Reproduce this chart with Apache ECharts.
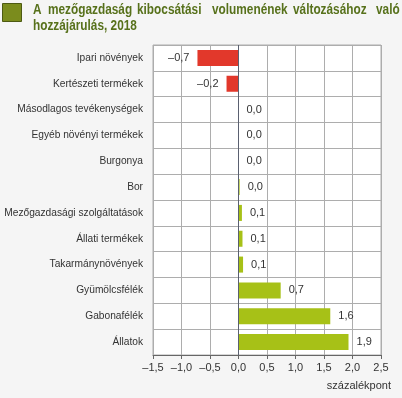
<!DOCTYPE html>
<html>
<head>
<meta charset="utf-8">
<script src="https://cdn.jsdelivr.net/npm/echarts@6/dist/echarts.min.js"></script>
<style>
  html, body { margin: 0; padding: 0; background: #f5f5f5; }
  #main { width: 402px; height: 398px; }
</style>
</head>
<body>
<div id="main"></div>
<script>
// kategóriák fentről lefelé
var categories = [
    'Ipari növények', 'Kertészeti termékek', 'Másodlagos tevékenységek',
    'Egyéb növényi termékek', 'Burgonya', 'Bor', 'Mezőgazdasági szolgáltatások',
    'Állati termékek', 'Takarmánynövények', 'Gyümölcsfélék', 'Gabonafélék', 'Állatok'
];
// hozzájárulás, százalékpont
var values = [-0.72, -0.21, 0, 0, 0, 0.02, 0.06, 0.07, 0.08, 0.74, 1.61, 1.93];

var titleLine1 = ['A', 'mezőgazdaság', 'kibocsátási', 'volumenének', 'változásához', 'való'];
var titleLine2 = 'hozzájárulás, 2018';
var unitLabel = 'százalékpont';

function huNum(v) {
    return v.toFixed(1).replace('.', ',').replace('-', '\u2013');
}

var chart = echarts.init(document.getElementById('main'));

var baseFont = '"Liberation Sans", Arial, sans-serif';
var titleFont = 'bold 14px "Liberation Sans", Arial, sans-serif';
// a cím sorkizárt és keskeny betűs: szavanként, vízszintesen összenyomva
var wordX = [33, 48, 137, 212, 293, 376];
var graphics = [{
    type: 'rect',
    shape: { x: 2.5, y: 3.5, width: 19, height: 18 },
    style: { fill: '#7b8c1d', stroke: '#4d5a12', lineWidth: 1 }
}];
titleLine1.forEach(function (w, i) {
    graphics.push({
        type: 'text', x: wordX[i], y: 3, scaleX: 0.845,
        style: { text: w, font: titleFont, fill: '#57711b' }
    });
});
graphics.push({
    type: 'text', x: 33, y: 19, scaleX: 0.845,
    style: { text: titleLine2, font: titleFont, fill: '#57711b' }
});
graphics.push({
    type: 'text', right: 11, top: 380,
    style: { text: unitLabel, font: '11px ' + baseFont, fill: '#333' }
});

var option = {
    backgroundColor: '#f5f5f5',
    animation: false,
    graphic: graphics,
    grid: {
        left: 153, right: 21, top: 45, bottom: 43,
        outerBoundsMode: 'none',
        containLabel: false,
        show: true, backgroundColor: '#ffffff',
        borderColor: '#adadad', borderWidth: 1
    },
    xAxis: {
        type: 'value',
        min: -1.5, max: 2.5, interval: 0.5,
        axisLine: { show: true, onZero: false, lineStyle: { color: '#666' } },
        axisTick: { show: true, length: 4, lineStyle: { color: '#666' } },
        axisLabel: {
            color: '#333', fontSize: 11, margin: 7,
            fontFamily: baseFont,
            formatter: huNum
        },
        splitLine: { show: true, lineStyle: { color: '#adadad', width: 1 } }
    },
    yAxis: {
        type: 'category',
        inverse: true,
        data: categories,
        axisLine: { show: false },
        axisTick: { show: false },
        axisLabel: {
            color: '#333', fontSize: 10.2, margin: 10,
            fontFamily: baseFont
        },
        splitLine: { show: true, lineStyle: { color: '#adadad', width: 1 } }
    },
    series: [{
        type: 'bar',
        barWidth: '62%',
        data: values.map(function (v) {
            return {
                value: v,
                itemStyle: { color: v < 0 ? '#e2382b' : '#a7c117' },
                label: { position: v < 0 ? 'left' : 'right' }
            };
        }),
        label: {
            show: true, distance: 8, color: '#333', fontSize: 11,
            fontFamily: baseFont,
            formatter: function (p) { return huNum(p.value); }
        },
        markLine: {
            silent: true, symbol: 'none', label: { show: false },
            lineStyle: { color: '#5a6070', width: 1, type: 'solid' },
            data: [{ xAxis: 0 }]
        }
    }]
};

chart.setOption(option);
</script>
</body>
</html>
